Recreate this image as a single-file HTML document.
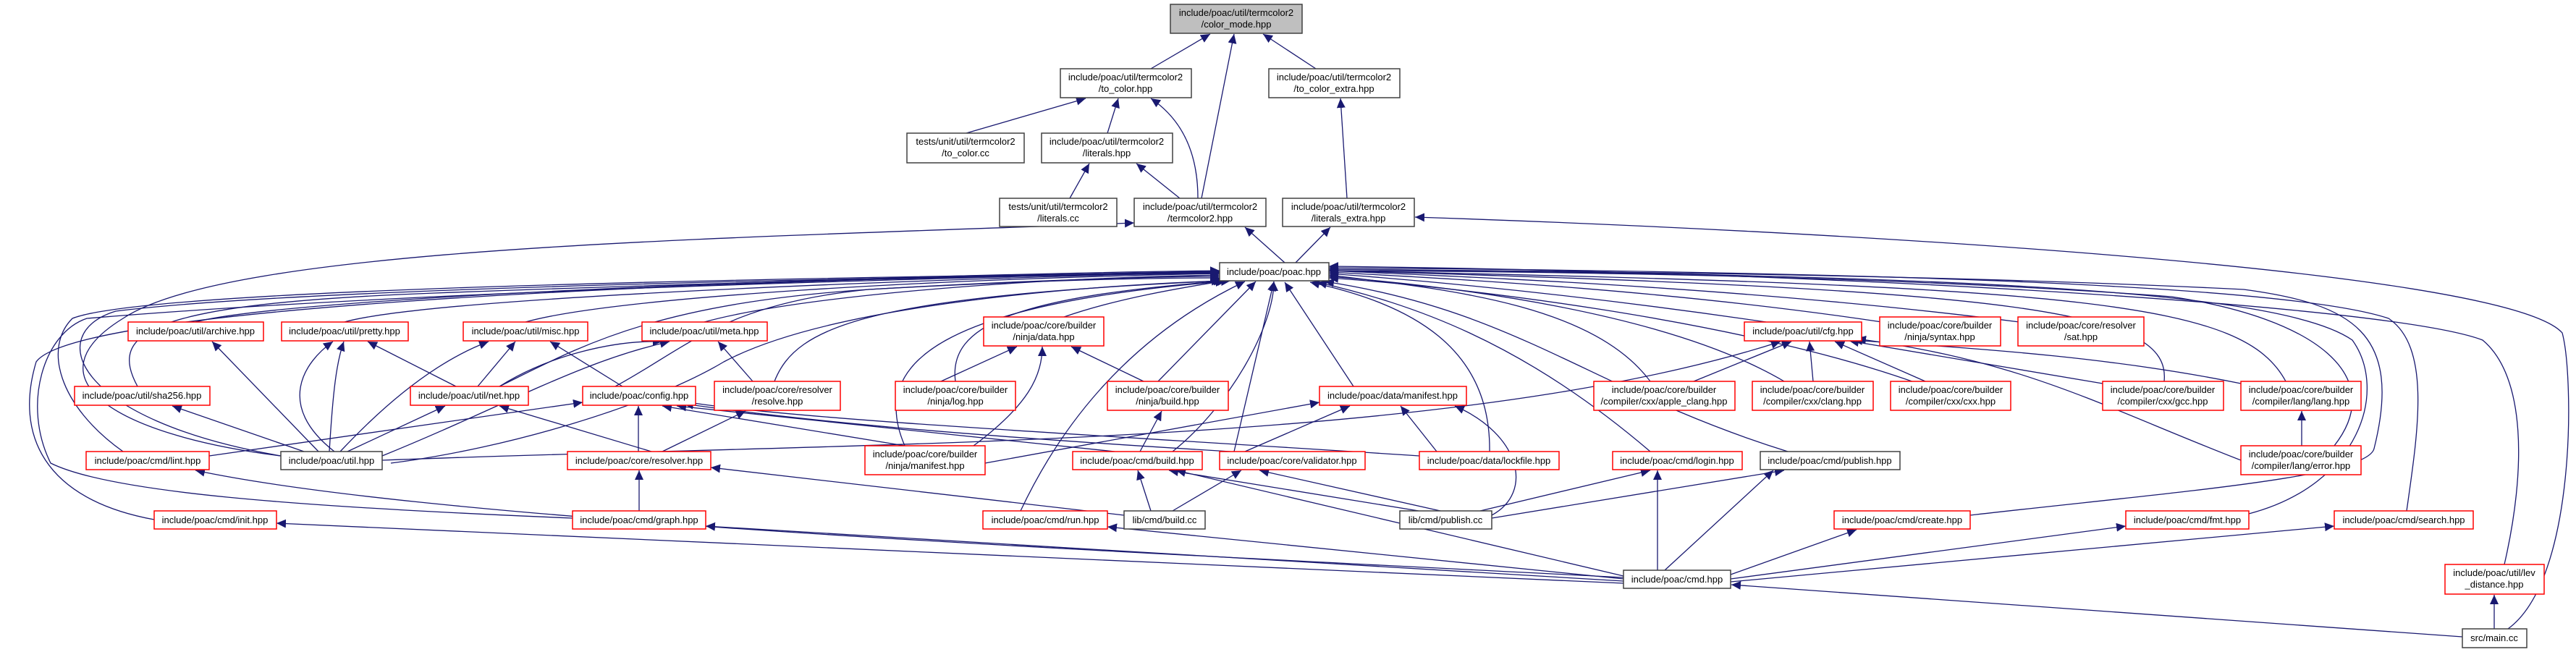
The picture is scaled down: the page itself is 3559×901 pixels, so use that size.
<!DOCTYPE html>
<html><head><meta charset="utf-8">
<style>
html,body{margin:0;padding:0;background:#fff;}
svg{display:block;}
text{font-family:"Liberation Sans",sans-serif;font-size:13px;fill:#000;}
.e{fill:none;stroke:#191970;stroke-width:1.3;marker-end:url(#a);}
.r{fill:#fff;stroke:#ff0000;stroke-width:1.5;}
.b{fill:#fff;stroke:#404040;stroke-width:1.5;}
.g{fill:#bfbfbf;stroke:#404040;stroke-width:1.5;}
</style></head><body>
<svg width="3559" height="901" viewBox="0 0 3559 901" xmlns="http://www.w3.org/2000/svg">
<defs><marker id="a" markerUnits="userSpaceOnUse" markerWidth="14" markerHeight="12" refX="13" refY="6" orient="auto"><path d="M0,0 L13,6 L0,12 Z" fill="#191970"/></marker></defs>

<!-- edges top -->
<path class="e" d="M1590,95 L1672,47"/>
<path class="e" d="M1660,274 L1705,47"/>
<path class="e" d="M1818,95 L1745,47"/>
<path class="e" d="M1335,184 L1500,136"/>
<path class="e" d="M1530,184 L1545,136"/>
<path class="e" d="M1655,274 Q1655,180 1590,136"/>
<path class="e" d="M1478,274 L1505,226"/>
<path class="e" d="M1630,274 L1570,226"/>
<path class="e" d="M1861,274 L1852,136"/>
<path class="e" d="M1775,363 L1720,314"/>
<path class="e" d="M1790,363 L1838,314"/>
<path class="e" d="M3465,869 C3560,800 3556,520 3540,460 C3460,370 2500,318 1955,300"/>
<path class="e" d="M388,630 C150,600 40,520 170,440 C320,340 1000,330 1567,308"/>

<!-- into poac.hpp from left -->
<path class="e" d="M270,445 C400,410 1200,380 1685,374"/>
<path class="e" d="M476,445 C600,410 1300,385 1685,376"/>
<path class="e" d="M726,445 C850,410 1300,385 1685,378"/>
<path class="e" d="M973,445 C1100,410 1400,385 1685,380"/>
<path class="e" d="M190,534 C150,460 200,420 600,405 C1000,390 1400,380 1685,378"/>
<path class="e" d="M690,534 C800,480 900,420 1200,400 C1400,388 1600,382 1685,382"/>
<path class="e" d="M850,534 C950,480 1000,420 1200,400 C1450,386 1600,384 1685,384"/>
<path class="e" d="M170,624 C80,560 60,480 100,440 C200,400 1000,385 1685,376"/>
<path class="e" d="M388,630 C100,580 60,460 160,430 C400,400 1100,385 1685,377"/>
<path class="e" d="M1070,527 C1100,450 1200,410 1690,388"/>
<path class="e" d="M1470,438 C1550,410 1650,395 1692,388"/>
<path class="e" d="M1320,527 C1310,450 1400,410 1695,388"/>
<path class="e" d="M1250,616 C1200,500 1300,420 1700,388"/>
<path class="e" d="M213,718 C60,690 20,600 50,500 C100,430 800,390 1685,375"/>
<path class="e" d="M791,716 C400,700 150,680 70,640 C30,560 60,460 120,440 C600,400 1300,385 1685,375"/>
<path class="e" d="M1410,706 C1460,600 1550,470 1720,389"/>
<path class="e" d="M540,640 C700,620 900,560 1000,500 C1150,420 1500,395 1687,388"/>
<!-- bottom -->
<path class="e" d="M1600,527 L1735,389"/>
<path class="e" d="M1620,624 C1700,560 1760,450 1760,389"/>
<path class="e" d="M1705,624 L1760,389"/>
<path class="e" d="M1870,534 L1775,390"/>
<path class="e" d="M2058,624 C2060,480 1950,420 1810,390"/>
<path class="e" d="M2280,624 C2100,470 1950,420 1820,390"/>
<path class="e" d="M2470,624 C2200,540 2100,430 1830,389"/>
<!-- into poac right -->
<path class="e" d="M2440,445 C2200,410 2000,390 1836,378"/>
<path class="e" d="M2600,445 C2300,400 2000,385 1836,376"/>
<path class="e" d="M2790,445 C2400,395 2000,382 1836,374"/>
<path class="e" d="M2280,527 C2200,420 2000,400 1836,380"/>
<path class="e" d="M2465,527 C2300,430 2000,395 1836,382"/>
<path class="e" d="M2650,530 C2400,440 2000,395 1836,384"/>
<path class="e" d="M2990,527 C3000,430 2800,400 1836,374"/>
<path class="e" d="M3158,527 C3100,420 2900,395 1836,374"/>
<path class="e" d="M3225,616 C3300,520 3200,440 3000,410 C2600,380 2100,375 1836,374"/>
<path class="e" d="M3107,710 C3260,670 3300,540 3250,470 C3150,400 2700,380 1836,372"/>
<path class="e" d="M2722,712 C3000,680 3270,660 3280,620 C3320,460 3250,420 3100,400 C2700,380 2200,375 1836,372"/>
<path class="e" d="M3325,706 C3340,600 3360,480 3300,440 C3150,390 2500,375 1836,370"/>
<path class="e" d="M3460,780 C3490,650 3490,520 3430,470 C3300,420 2500,375 1836,368"/>

<!-- misc internal -->
<path class="e" d="M440,624 L293,472"/>
<path class="e" d="M455,624 C460,540 465,500 475,472"/>
<path class="e" d="M462,624 C380,560 420,500 460,472"/>
<path class="e" d="M470,624 C530,560 600,500 675,472"/>
<path class="e" d="M420,624 L238,561"/>
<path class="e" d="M480,624 L615,561"/>
<path class="e" d="M528,630 C700,560 800,500 925,472"/>
<path class="e" d="M630,534 L508,472"/>
<path class="e" d="M660,534 L712,472"/>
<path class="e" d="M690,534 C760,490 850,470 915,472"/>
<path class="e" d="M860,534 L760,472"/>
<path class="e" d="M1040,527 L992,472"/>
<path class="e" d="M289,630 L805,556"/>
<path class="e" d="M882,624 L882,561"/>
<path class="e" d="M900,624 L690,561"/>
<path class="e" d="M915,624 L1030,568"/>
<path class="e" d="M883,706 L883,650"/>
<path class="e" d="M1250,616 L915,561"/>
<path class="e" d="M1345,616 C1420,560 1440,520 1440,479"/>
<path class="e" d="M1300,527 L1405,479"/>
<path class="e" d="M1580,527 L1480,479"/>
<path class="e" d="M1540,624 L935,561"/>
<path class="e" d="M1575,624 L1605,568"/>
<path class="e" d="M1700,624 C1300,600 1100,580 945,558"/>
<path class="e" d="M1720,624 L1865,561"/>
<path class="e" d="M1985,624 L1935,561"/>
<path class="e" d="M1961,630 C1500,600 1100,580 945,555"/>
<path class="e" d="M1361,640 L1823,556"/>
<path class="e" d="M1590,706 L1572,650"/>
<path class="e" d="M1620,706 L1715,650"/>
<path class="e" d="M1553,712 L982,646"/>
<path class="e" d="M1990,706 L1740,650"/>
<path class="e" d="M1960,706 L1615,650"/>
<path class="e" d="M2061,712 C2120,680 2100,600 2010,561"/>
<path class="e" d="M2045,706 L2280,650"/>
<path class="e" d="M2061,716 L2465,650"/>
<path class="e" d="M2243,796 L1625,650"/>
<path class="e" d="M2290,788 L2290,650"/>
<path class="e" d="M2300,788 L2450,650"/>
<path class="e" d="M2243,800 L1530,728"/>
<path class="e" d="M2243,806 L382,723"/>
<path class="e" d="M2243,803 L975,727"/>
<path class="e" d="M2243,798 C1500,760 600,720 270,650"/>
<path class="e" d="M2391,794 L2565,732"/>
<path class="e" d="M2391,800 L2937,727"/>
<path class="e" d="M2391,804 L3225,727"/>
<path class="e" d="M3402,880 L2392,808"/>
<path class="e" d="M3446,869 L3446,822"/>
<path class="e" d="M3180,616 L3180,568"/>
<path class="e" d="M2340,527 L2475,472"/>
<path class="e" d="M2505,527 L2500,472"/>
<path class="e" d="M2660,527 L2535,472"/>
<path class="e" d="M2905,530 L2555,471"/>
<path class="e" d="M3096,530 C2900,490 2700,480 2560,470"/>
<path class="e" d="M3096,636 C2900,560 2800,500 2565,468"/>
<path class="e" d="M528,636 C1200,610 2000,620 2460,472"/>

<!-- nodes -->
<g>
<rect class="g" x="1617" y="6" width="182" height="40"/><text x="1708" y="22" text-anchor="middle">include/poac/util/termcolor2</text><text x="1708" y="38" text-anchor="middle">/color_mode.hpp</text>
<rect class="b" x="1465" y="95" width="181" height="40"/><text x="1555" y="111" text-anchor="middle">include/poac/util/termcolor2</text><text x="1555" y="127" text-anchor="middle">/to_color.hpp</text>
<rect class="b" x="1753" y="95" width="181" height="40"/><text x="1843" y="111" text-anchor="middle">include/poac/util/termcolor2</text><text x="1843" y="127" text-anchor="middle">/to_color_extra.hpp</text>
<rect class="b" x="1253" y="184" width="162" height="41"/><text x="1334" y="200" text-anchor="middle">tests/unit/util/termcolor2</text><text x="1334" y="216" text-anchor="middle">/to_color.cc</text>
<rect class="b" x="1439" y="184" width="181" height="41"/><text x="1529" y="200" text-anchor="middle">include/poac/util/termcolor2</text><text x="1529" y="216" text-anchor="middle">/literals.hpp</text>
<rect class="b" x="1381" y="274" width="162" height="39"/><text x="1462" y="290" text-anchor="middle">tests/unit/util/termcolor2</text><text x="1462" y="306" text-anchor="middle">/literals.cc</text>
<rect class="b" x="1567" y="274" width="182" height="39"/><text x="1658" y="290" text-anchor="middle">include/poac/util/termcolor2</text><text x="1658" y="306" text-anchor="middle">/termcolor2.hpp</text>
<rect class="b" x="1772" y="274" width="182" height="39"/><text x="1863" y="290" text-anchor="middle">include/poac/util/termcolor2</text><text x="1863" y="306" text-anchor="middle">/literals_extra.hpp</text>
<rect class="b" x="1685" y="363" width="151" height="25"/><text x="1760" y="380" text-anchor="middle">include/poac/poac.hpp</text>

<rect class="r" x="177" y="445" width="187" height="26"/><text x="270" y="462" text-anchor="middle">include/poac/util/archive.hpp</text>
<rect class="r" x="389" y="445" width="175" height="26"/><text x="476" y="462" text-anchor="middle">include/poac/util/pretty.hpp</text>
<rect class="r" x="640" y="445" width="172" height="26"/><text x="726" y="462" text-anchor="middle">include/poac/util/misc.hpp</text>
<rect class="r" x="887" y="445" width="173" height="26"/><text x="973" y="462" text-anchor="middle">include/poac/util/meta.hpp</text>
<rect class="r" x="1359" y="438" width="166" height="40"/><text x="1442" y="454" text-anchor="middle">include/poac/core/builder</text><text x="1442" y="470" text-anchor="middle">/ninja/data.hpp</text>
<rect class="r" x="2410" y="445" width="162" height="26"/><text x="2491" y="462" text-anchor="middle">include/poac/util/cfg.hpp</text>
<rect class="r" x="2597" y="438" width="167" height="40"/><text x="2680" y="454" text-anchor="middle">include/poac/core/builder</text><text x="2680" y="470" text-anchor="middle">/ninja/syntax.hpp</text>
<rect class="r" x="2788" y="438" width="174" height="40"/><text x="2875" y="454" text-anchor="middle">include/poac/core/resolver</text><text x="2875" y="470" text-anchor="middle">/sat.hpp</text>

<rect class="r" x="103" y="534" width="187" height="26"/><text x="196" y="551" text-anchor="middle">include/poac/util/sha256.hpp</text>
<rect class="r" x="567" y="534" width="163" height="26"/><text x="648" y="551" text-anchor="middle">include/poac/util/net.hpp</text>
<rect class="r" x="805" y="534" width="156" height="26"/><text x="883" y="551" text-anchor="middle">include/poac/config.hpp</text>
<rect class="r" x="987" y="527" width="174" height="40"/><text x="1074" y="543" text-anchor="middle">include/poac/core/resolver</text><text x="1074" y="559" text-anchor="middle">/resolve.hpp</text>
<rect class="r" x="1237" y="527" width="166" height="40"/><text x="1320" y="543" text-anchor="middle">include/poac/core/builder</text><text x="1320" y="559" text-anchor="middle">/ninja/log.hpp</text>
<rect class="r" x="1530" y="527" width="167" height="40"/><text x="1613" y="543" text-anchor="middle">include/poac/core/builder</text><text x="1613" y="559" text-anchor="middle">/ninja/build.hpp</text>
<rect class="r" x="1823" y="534" width="203" height="26"/><text x="1924" y="551" text-anchor="middle">include/poac/data/manifest.hpp</text>
<rect class="r" x="2202" y="527" width="195" height="40"/><text x="2299" y="543" text-anchor="middle">include/poac/core/builder</text><text x="2299" y="559" text-anchor="middle">/compiler/cxx/apple_clang.hpp</text>
<rect class="r" x="2421" y="527" width="167" height="40"/><text x="2504" y="543" text-anchor="middle">include/poac/core/builder</text><text x="2504" y="559" text-anchor="middle">/compiler/cxx/clang.hpp</text>
<rect class="r" x="2612" y="527" width="166" height="40"/><text x="2695" y="543" text-anchor="middle">include/poac/core/builder</text><text x="2695" y="559" text-anchor="middle">/compiler/cxx/cxx.hpp</text>
<rect class="r" x="2905" y="527" width="167" height="40"/><text x="2988" y="543" text-anchor="middle">include/poac/core/builder</text><text x="2988" y="559" text-anchor="middle">/compiler/cxx/gcc.hpp</text>
<rect class="r" x="3096" y="527" width="166" height="40"/><text x="3179" y="543" text-anchor="middle">include/poac/core/builder</text><text x="3179" y="559" text-anchor="middle">/compiler/lang/lang.hpp</text>

<rect class="r" x="119" y="624" width="170" height="25"/><text x="204" y="641" text-anchor="middle">include/poac/cmd/lint.hpp</text>
<rect class="b" x="388" y="624" width="140" height="25"/><text x="458" y="641" text-anchor="middle">include/poac/util.hpp</text>
<rect class="r" x="784" y="624" width="198" height="25"/><text x="883" y="641" text-anchor="middle">include/poac/core/resolver.hpp</text>
<rect class="r" x="1195" y="616" width="166" height="40"/><text x="1278" y="632" text-anchor="middle">include/poac/core/builder</text><text x="1278" y="648" text-anchor="middle">/ninja/manifest.hpp</text>
<rect class="r" x="1482" y="624" width="179" height="25"/><text x="1571" y="641" text-anchor="middle">include/poac/cmd/build.hpp</text>
<rect class="r" x="1685" y="624" width="201" height="25"/><text x="1785" y="641" text-anchor="middle">include/poac/core/validator.hpp</text>
<rect class="r" x="1961" y="624" width="193" height="25"/><text x="2057" y="641" text-anchor="middle">include/poac/data/lockfile.hpp</text>
<rect class="r" x="2228" y="624" width="179" height="25"/><text x="2317" y="641" text-anchor="middle">include/poac/cmd/login.hpp</text>
<rect class="b" x="2432" y="624" width="193" height="25"/><text x="2528" y="641" text-anchor="middle">include/poac/cmd/publish.hpp</text>
<rect class="r" x="3096" y="616" width="166" height="40"/><text x="3179" y="632" text-anchor="middle">include/poac/core/builder</text><text x="3179" y="648" text-anchor="middle">/compiler/lang/error.hpp</text>

<rect class="r" x="213" y="706" width="169" height="25"/><text x="297" y="723" text-anchor="middle">include/poac/cmd/init.hpp</text>
<rect class="r" x="791" y="706" width="184" height="25"/><text x="883" y="723" text-anchor="middle">include/poac/cmd/graph.hpp</text>
<rect class="r" x="1358" y="706" width="172" height="25"/><text x="1444" y="723" text-anchor="middle">include/poac/cmd/run.hpp</text>
<rect class="b" x="1553" y="706" width="112" height="25"/><text x="1609" y="723" text-anchor="middle">lib/cmd/build.cc</text>
<rect class="b" x="1934" y="706" width="127" height="25"/><text x="1997" y="723" text-anchor="middle">lib/cmd/publish.cc</text>
<rect class="r" x="2534" y="706" width="188" height="25"/><text x="2628" y="723" text-anchor="middle">include/poac/cmd/create.hpp</text>
<rect class="r" x="2937" y="706" width="170" height="25"/><text x="3022" y="723" text-anchor="middle">include/poac/cmd/fmt.hpp</text>
<rect class="r" x="3225" y="706" width="192" height="25"/><text x="3321" y="723" text-anchor="middle">include/poac/cmd/search.hpp</text>
<rect class="b" x="2243" y="788" width="148" height="25"/><text x="2317" y="805" text-anchor="middle">include/poac/cmd.hpp</text>
<rect class="r" x="3378" y="780" width="137" height="41"/><text x="3446" y="796" text-anchor="middle">include/poac/util/lev</text><text x="3446" y="812" text-anchor="middle">_distance.hpp</text>
<rect class="b" x="3402" y="869" width="89" height="26"/><text x="3446" y="886" text-anchor="middle">src/main.cc</text>
</g>
</svg>
</body></html>
